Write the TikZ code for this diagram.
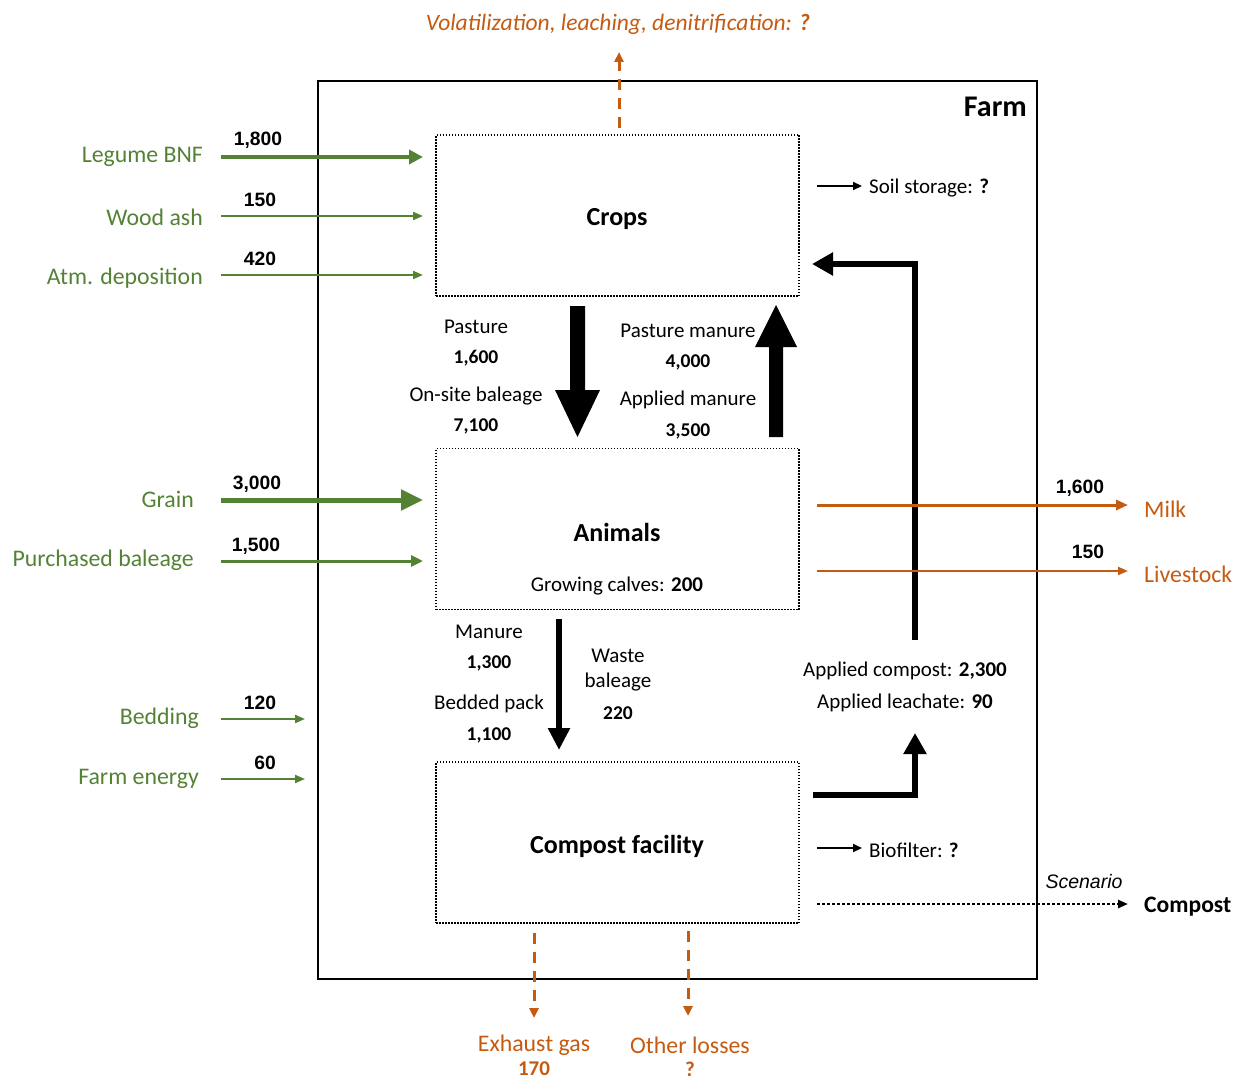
\documentclass[tikz,border=0pt]{standalone}
\usepackage{fontspec}
\setmainfont{Carlito}
\newfontfamily\arialf{Liberation Sans}
\usetikzlibrary{arrows.meta}
\definecolor{grn}{HTML}{548235}
\definecolor{org}{HTML}{C55A11}
\tikzset{
  txt/.style={font=\fontsize{21}{25}\selectfont, inner sep=0pt, yshift=-2pt},
  btxt/.style={font=\bfseries\fontsize{19.5}{23}\selectfont, inner sep=0pt, yshift=-2pt},
  gtxt/.style={font=\fontsize{23.8}{28}\selectfont, text=grn, inner sep=0pt, yshift=-2pt},
  otxt/.style={font=\fontsize{23.8}{28}\selectfont, text=org, inner sep=0pt, yshift=-2pt},
  anum/.style={font=\arialf\bfseries\fontsize{19.3}{22}\selectfont, inner sep=0pt, yshift=-1pt},
  title/.style={font=\bfseries\fontsize{26}{30}\selectfont, inner sep=0pt, yshift=-2pt},
  procbox/.style={draw, line width=1.5pt, dash pattern=on 1.5pt off 1.5pt, minimum width=363pt, minimum height=161pt, inner sep=0pt},
  gthick/.style={draw=grn, line width=4pt, -{Triangle[length=14pt,width=14pt]}},
  gthin/.style={draw=grn, line width=2pt, -{Triangle[length=10pt,width=8pt]}},
  gxthick/.style={draw=grn, line width=5pt, -{Triangle[length=22pt,width=20pt]}},
  gmed/.style={draw=grn, line width=3pt, -{Triangle[length=12pt,width=11pt]}},
  omed/.style={draw=org, line width=3pt, -{Triangle[length=12pt,width=10pt]}},
  othin/.style={draw=org, line width=2pt, -{Triangle[length=10pt,width=8pt]}},
  odash/.style={draw=org, line width=3pt, dash pattern=on 11pt off 8pt, -{Triangle[length=10pt,width=9pt]}},
  kthin/.style={draw, line width=2pt, -{Triangle[length=9pt,width=8pt]}},
  kret/.style={draw, line width=6.5pt, line join=miter, -{Triangle[length=21pt,width=22pt]}},
  kdot/.style={draw, line width=2.5pt, dash pattern=on 2.5pt off 2.5pt, -{Triangle[length=10pt,width=8pt]}},
}
\begin{document}
\begin{tikzpicture}[x=1pt,y=-1pt]
\useasboundingbox (0,0) rectangle (1238,1078);
% farm
\node[draw, line width=2pt, minimum width=719pt, minimum height=898pt, inner sep=0pt] (farm) at (677.5,530) {};
\node[title, font=\bfseries\fontsize{30}{34}\selectfont, anchor=east] (farmlbl) at (1027,105) {Farm};
% process boxes
\node[procbox] (crops) at (617.5,215.5) {};
\node[title] (cropslbl) at (617,217) {Crops};
\node[procbox] (animals) at (617.5,529) {};
\node[title] (animalslbl) at (617,530) {Animals};
\node[txt] (calves) at (617,584) {Growing calves: \textbf{200}};
\node[procbox] (compost) at (617.5,842.5) {};
\node[title] (compostlbl) at (617,844) {Compost facility};

% left inputs to crops
\node[gtxt, anchor=east] (lbnf) at (203,155) {Legume BNF};
\node[anum] (n1800) at (258,139) {1,800};
\draw[gthick] (221,157) -- (423,157);
\node[gtxt, anchor=east] (wash) at (203,215) {Wood ash};
\node[anum] (n150a) at (260,199) {150};
\draw[gthin] (221,216) -- (423,216);
\node[gtxt, anchor=east] (atm) at (203,276) {Atm. deposition};
\node[anum] (n420) at (260,258) {420};
\draw[gthin] (221,275) -- (423,275);

% left inputs to animals
\node[gtxt, anchor=east] (grain) at (194,497) {Grain};
\node[anum] (n3000) at (257,483) {3,000};
\draw[gxthick] (221,500) -- (423,500);
\node[gtxt, anchor=east] (pbal) at (194,558) {Purchased baleage};
\node[anum] (n1500) at (256,545) {1,500};
\draw[gmed] (221,561) -- (423,561);

% left inputs to farm
\node[gtxt, anchor=east] (bedding) at (199,716) {Bedding};
\node[anum] (n120) at (260,702) {120};
\draw[gthin] (221,719) -- (305,719);
\node[gtxt, anchor=east] (fenergy) at (199,777) {Farm energy};
\node[anum] (n60) at (265,762) {60};
\draw[gthin] (221,779) -- (305,779);

% crops <-> animals block arrows
\fill (570,306) -- (585,306) -- (585,390) -- (600,390) -- (577.5,437) -- (555,390) -- (570,390) -- cycle;
\fill (769,437) -- (783,437) -- (783,347) -- (797,347) -- (776,305) -- (755,347) -- (769,347) -- cycle;
\node[txt] (pasture) at (476,325) {Pasture};
\node[btxt] (n1600a) at (476,356) {1,600};
\node[txt] (onsite) at (476,394) {On-site baleage};
\node[btxt] (n7100) at (476,424) {7,100};
\node[txt] (pman) at (688,329) {Pasture manure};
\node[btxt] (n4000) at (688,360) {4,000};
\node[txt] (aman) at (688,398) {Applied manure};
\node[btxt] (n3500) at (688,429) {3,500};

% animals -> compost
\draw[line width=6.5pt, -{Triangle[length=22pt,width=21pt]}] (559,619) -- (559,750);
\node[txt] (manure) at (489,630) {Manure};
\node[btxt] (n1300) at (489,661) {1,300};
\node[txt] (bpack) at (489,702) {Bedded pack};
\node[btxt] (n1100) at (489,733) {1,100};
\node[txt] (waste) at (618,654) {Waste};
\node[txt] (wbal) at (618,680) {baleage};
\node[btxt] (n220) at (618,711) {220};

% compost return
\draw[kret] (813,795) -- (915,795) -- (915,733);
\node[txt] (acomp) at (905,669) {Applied compost: \textbf{2,300}};
\node[txt] (aleach) at (905,701) {Applied leachate: \textbf{90}};
\draw[kret] (915,640) -- (915,264) -- (812,264);

% soil storage, biofilter
\draw[kthin] (817,186) -- (862,186);
\node[txt, anchor=west] (soil) at (869,186) {Soil storage: \textbf{?}};
\draw[kthin] (817,848) -- (862,848);
\node[txt, anchor=west] (biof) at (869,848) {Biofilter: \textbf{?}};

% outputs
\draw[omed] (817,505) -- (1128,505);
\node[anum] (n1600b) at (1080,487) {1,600};
\node[otxt, anchor=west] (milk) at (1144,507) {Milk};
\draw[othin] (817,571) -- (1128,571);
\node[anum] (n150b) at (1088,551) {150};
\node[otxt, anchor=west] (livestock) at (1144,572) {Livestock};

% scenario
\draw[kdot] (817,904) -- (1128,904);
\node[font=\arialf\itshape\fontsize{19.5}{23}\selectfont, inner sep=0pt, yshift=-1pt] (scen) at (1084,881) {Scenario};
\node[font=\bfseries\fontsize{23.6}{27}\selectfont, inner sep=0pt, anchor=west, yshift=-2pt] (complbl) at (1144,905) {Compost};

% losses
\draw[odash] (619,128) -- (619,52);
\node[otxt, font=\itshape\fontsize{23.5}{27}\selectfont] (vol) at (618,22) {Volatilization, leaching, denitrification: \textbf{?}};
\draw[odash] (534,933) -- (534,1018);
\node[otxt] (exh) at (534,1043) {Exhaust gas};
\node[otxt, font=\bfseries\fontsize{21}{25}\selectfont, yshift=1pt] (n170) at (534,1068) {170};
\draw[odash] (688,931) -- (688,1016);
\node[otxt] (oth) at (690,1043) {Other losses};
\node[otxt, font=\bfseries\fontsize{21}{25}\selectfont, yshift=1pt] (q) at (690,1068) {?};
\end{tikzpicture}
\end{document}
